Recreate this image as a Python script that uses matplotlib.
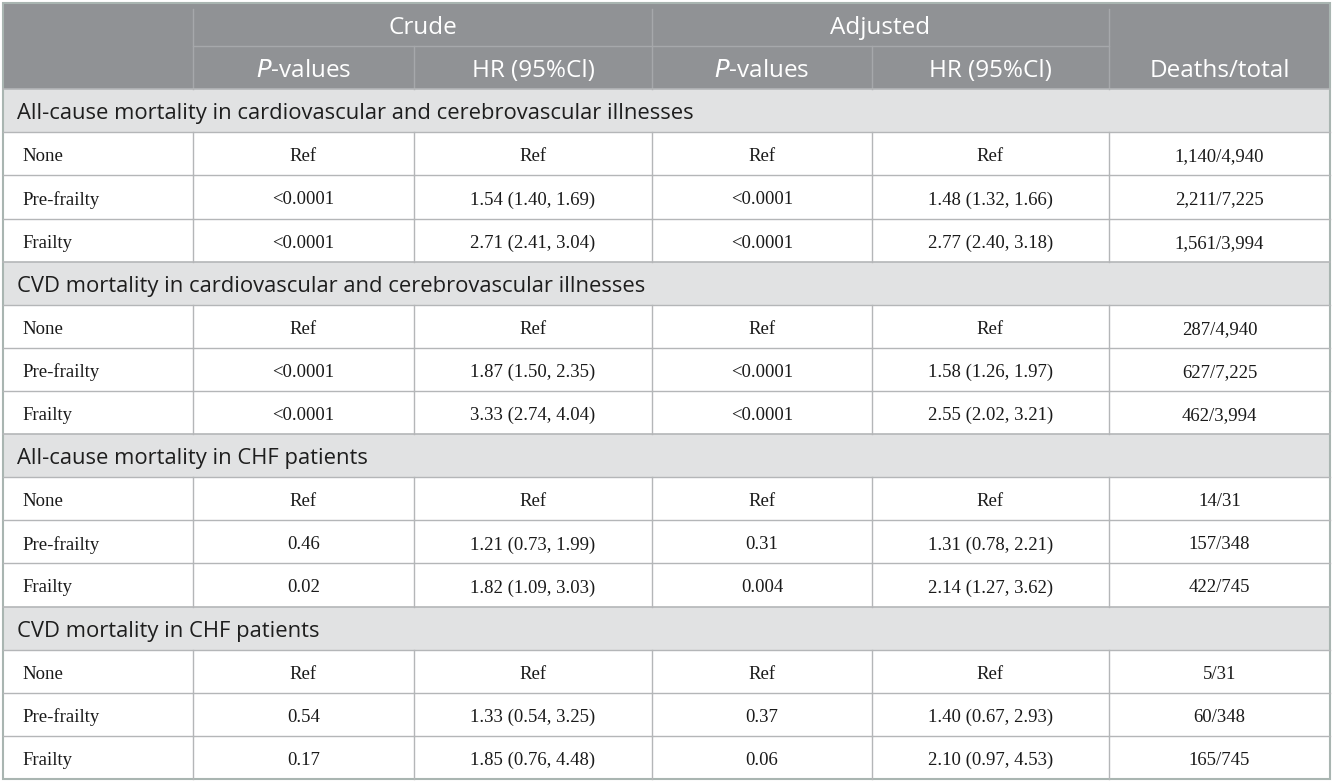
import matplotlib.pyplot as plt
from matplotlib.patches import Rectangle

# データ
sections = [
    "All-cause mortality in cardiovascular and cerebrovascular illnesses",
    "CVD mortality in cardiovascular and cerebrovascular illnesses",
    "All-cause mortality in CHF patients",
    "CVD mortality in CHF patients",
]
groups = ["None", "Pre-frailty", "Frailty"]

crude_p = [
    ["Ref", "<0.0001", "<0.0001"],
    ["Ref", "<0.0001", "<0.0001"],
    ["Ref", "0.46", "0.02"],
    ["Ref", "0.54", "0.17"],
]
crude_hr = [
    ["Ref", "1.54 (1.40, 1.69)", "2.71 (2.41, 3.04)"],
    ["Ref", "1.87 (1.50, 2.35)", "3.33 (2.74, 4.04)"],
    ["Ref", "1.21 (0.73, 1.99)", "1.82 (1.09, 3.03)"],
    ["Ref", "1.33 (0.54, 3.25)", "1.85 (0.76, 4.48)"],
]
adj_p = [
    ["Ref", "<0.0001", "<0.0001"],
    ["Ref", "<0.0001", "<0.0001"],
    ["Ref", "0.31", "0.004"],
    ["Ref", "0.37", "0.06"],
]
adj_hr = [
    ["Ref", "1.48 (1.32, 1.66)", "2.77 (2.40, 3.18)"],
    ["Ref", "1.58 (1.26, 1.97)", "2.55 (2.02, 3.21)"],
    ["Ref", "1.31 (0.78, 2.21)", "2.14 (1.27, 3.62)"],
    ["Ref", "1.40 (0.67, 2.93)", "2.10 (0.97, 4.53)"],
]
deaths = [
    ["1,140/4,940", "2,211/7,225", "1,561/3,994"],
    ["287/4,940", "627/7,225", "462/3,994"],
    ["14/31", "157/348", "422/745"],
    ["5/31", "60/348", "165/745"],
]

# レイアウト (ピクセル)
W, H = 1333, 783
xs = [3, 193, 414, 652, 872, 1109, 1330]   # 列の境界
top, bottom = 3, 779
nrows = 18
rh = (bottom - top) / nrows

HEAD = "#909295"
SEC = "#e1e2e3"
LINE = "#b4b6b8"
BORDER = "#a9b5b1"
sans = ["Open Sans", "DejaVu Sans"]
serif = ["Liberation Serif", "DejaVu Serif"]
FS_HEAD = 17.5
FS_SEC = 15.8
FS_BODY = 13.5
DY = 3   # 文字の縦位置の補正

fig = plt.figure(figsize=(W / 100, H / 100), dpi=100)
ax = fig.add_axes([0, 0, 1, 1])
ax.set_xlim(0, W)
ax.set_ylim(H, 0)
ax.axis("off")


def y_of(i):
    return top + i * rh


# ヘッダー
ax.add_patch(Rectangle((xs[0], top), xs[-1] - xs[0], 2 * rh, color=HEAD, lw=0))
ax.text((xs[1] + xs[3]) / 2, y_of(0.5) + DY, "Crude", ha="center", va="center",
        color="white", fontsize=FS_HEAD, family=sans)
ax.text((xs[3] + xs[5]) / 2, y_of(0.5) + DY, "Adjusted", ha="center", va="center",
        color="white", fontsize=FS_HEAD, family=sans)
sub = ["$\\it{P}$-values", "HR (95%Cl)", "$\\it{P}$-values", "HR (95%Cl)"]
for k, s in enumerate(sub):
    ax.text((xs[k + 1] + xs[k + 2]) / 2, y_of(1.5) + DY, s, ha="center", va="center",
            color="white", fontsize=FS_HEAD, family=sans)
ax.text((xs[5] + xs[6]) / 2, y_of(1.5) + DY, "Deaths/total", ha="center", va="center",
        color="white", fontsize=FS_HEAD, family=sans)

hl = "#a6a8ab"
ax.plot([xs[1], xs[5]], [y_of(1), y_of(1)], color=hl, lw=1)
for x in [xs[1], xs[3], xs[5]]:
    ax.plot([x, x], [y_of(0) + 6, y_of(2)], color=hl, lw=1)
for x in [xs[2], xs[4]]:
    ax.plot([x, x], [y_of(1), y_of(2)], color=hl, lw=1)

# 本体
row = 2
for s in range(len(sections)):
    ax.add_patch(Rectangle((xs[0], y_of(row)), xs[-1] - xs[0], rh, color=SEC, lw=0))
    ax.text(xs[0] + 14, y_of(row + 0.5) + DY, sections[s], ha="left", va="center",
            color="#1e1e1e", fontsize=FS_SEC, family=sans)
    ax.plot([xs[0], xs[-1]], [y_of(row), y_of(row)], color=LINE, lw=1.2)
    row += 1
    for g in range(len(groups)):
        yc = y_of(row + 0.5) + DY
        ax.plot([xs[0], xs[-1]], [y_of(row), y_of(row)], color=LINE, lw=1)
        ax.text(xs[0] + 19, yc, groups[g], ha="left", va="center",
                color="#1a1a1a", fontsize=FS_BODY, family=serif)
        vals = [crude_p[s][g], crude_hr[s][g], adj_p[s][g], adj_hr[s][g], deaths[s][g]]
        for k, v in enumerate(vals):
            ax.text((xs[k + 1] + xs[k + 2]) / 2, yc, v, ha="center", va="center",
                    color="#1a1a1a", fontsize=FS_BODY, family=serif)
        for x in xs[1:-1]:
            ax.plot([x, x], [y_of(row), y_of(row + 1)], color=LINE, lw=1)
        row += 1

# 外枠
ax.add_patch(Rectangle((xs[0], top), xs[-1] - xs[0], bottom - top, fill=False,
                       edgecolor=BORDER, lw=1.5))

fig.savefig("out.png", dpi=100)
